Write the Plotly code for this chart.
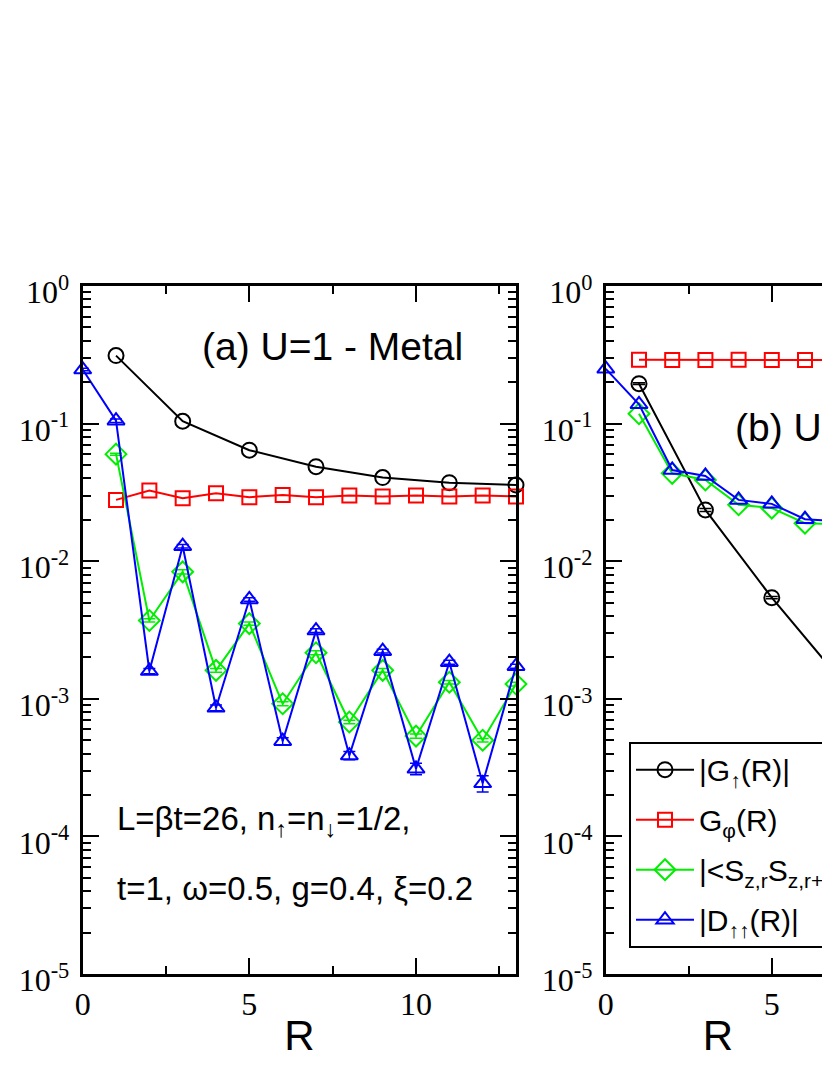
import plotly.graph_objects as go

# ---------------- data: panel (a) U=1 - Metal ----------------
R_a_odd = [1, 3, 5, 7, 9, 11, 13]
G_up_a = [0.312, 0.104, 0.0641, 0.0486, 0.0405, 0.0372, 0.0358]

R_a = [1, 2, 3, 4, 5, 6, 7, 8, 9, 10, 11, 12, 13]
G_phi_a = [0.0279, 0.0326, 0.0287, 0.0312, 0.0292, 0.0303, 0.0292,
           0.0300, 0.0295, 0.0300, 0.0295, 0.0300, 0.0295]
Sz_a = [0.060, 0.00371, 0.00837, 0.00161, 0.00352, 0.00092, 0.00216,
        0.000678, 0.00161, 0.000536, 0.00132, 0.000500, 0.00128]
Sz_a_err = [0.001, 0.0001, 0.0003, 0.00005, 0.0001, 0.00003, 0.00007,
            0.00002, 0.00005, 0.00002, 0.00004, 0.000015, 0.00004]

R_a_D = [0, 1, 2, 3, 4, 5, 6, 7, 8, 9, 10, 11, 12, 13]
D_a = [0.247, 0.105, 0.00159, 0.01285, 0.00086, 0.00527, 0.000492,
       0.00313, 0.000387, 0.00222, 0.00031, 0.001845, 0.000243, 0.001726]
D_a_err = [0.005, 0.003, 0.00007, 0.0004, 0.00004, 0.00015, 0.00003,
           0.0001, 0.000027, 0.00007, 0.00003, 0.00006, 0.000033, 0.00006]

# ---------------- data: panel (b) ----------------
R_b_odd = [1, 3, 5, 7]
G_up_b = [0.195, 0.0236, 0.00543, 0.00144]
G_up_b_err = [0.003, 0.0006, 0.0001, 0.00004]

R_b = [1, 2, 3, 4, 5, 6, 7]
G_phi_b = [0.291, 0.290, 0.290, 0.291, 0.290, 0.290, 0.290]
Sz_b = [0.118, 0.0435, 0.0389, 0.0257, 0.0243, 0.0189, 0.0185]

R_b_D = [0, 1, 2, 3, 4, 5, 6, 7]
D_b = [0.250, 0.138, 0.0460, 0.0416, 0.0279, 0.0261, 0.0202, 0.0195]

legend_names = ["|G<sub>↑</sub>(R)|", "G<sub>φ</sub>(R)",
                "|&lt;S<sub>z,r</sub>S<sub>z,r+1</sub>&gt;|", "|D<sub>↑↑</sub>(R)|"]

y_major = [1e-5, 1e-4, 1e-3, 1e-2, 1e-1, 1]
y_major_text = ["10<sup>-5</sup>", "10<sup>-4</sup>", "10<sup>-3</sup>",
                "10<sup>-2</sup>", "10<sup>-1</sup>", "10<sup>0</sup>"]
y_minor = [m * 10.0 ** e for e in range(-5, 0) for m in range(2, 10)]
x_major = [0, 5, 10]
x_minor = [2.5, 7.5, 12.5]

BLACK, RED, GREEN, BLUE = "#000000", "#ff0000", "#00ee00", "#0000ff"

fig = go.Figure()


def add(x, y, color, symbol, name, group, xa, ya, show, err=None, size=13):
    fig.add_trace(go.Scatter(
        x=x, y=y, mode="lines+markers", name=name, xaxis=xa, yaxis=ya,
        legendgroup=group, showlegend=show, cliponaxis=False,
        line=dict(color=color, width=2),
        marker=dict(symbol=symbol, size=size, color=color,
                    line=dict(color=color, width=2)),
        error_y=(dict(type="data", array=err, visible=True, color=color,
                      thickness=1.5, width=6) if err is not None else None),
    ))


# panel (a)
add(R_a_odd, G_up_a, BLACK, "circle-open", legend_names[0], "g1", "x", "y", False, size=15)
add(R_a, G_phi_a, RED, "square-open", legend_names[1], "g2", "x", "y", False, size=14)
add(R_a, Sz_a, GREEN, "diamond-open", legend_names[2], "g3", "x", "y", False, err=Sz_a_err, size=16)
add(R_a_D, D_a, BLUE, "triangle-up-open", legend_names[3], "g4", "x", "y", False, err=D_a_err, size=15)

# panel (b)
add(R_b_odd, G_up_b, BLACK, "circle-open", legend_names[0], "g1", "x2", "y2", True, err=G_up_b_err, size=15)
add(R_b, G_phi_b, RED, "square-open", legend_names[1], "g2", "x2", "y2", True, size=14)
add(R_b, Sz_b, GREEN, "diamond-open", legend_names[2], "g3", "x2", "y2", True, size=16)
add(R_b_D, D_b, BLUE, "triangle-up-open", legend_names[3], "g4", "x2", "y2", True, size=15)

OFF = 8                      # page offset of the figure inside the browser
W, H = 830 - OFF, 1075 - OFF
TOP, BOT = 286 - OFF, 974.5 - OFF


def px_x(p):
    return (p - OFF) / W


def px_y(p):
    return (BOT - (p - OFF)) / (BOT - TOP)


tickfont = dict(family="Liberation Serif", size=32, color="black")
common_x = dict(
    tickmode="array", tickvals=x_major, ticktext=[str(v) for v in x_major],
    ticks="inside", ticklen=16, tickwidth=2, tickcolor="black",
    minor=dict(tickmode="array", tickvals=x_minor, ticks="inside",
               ticklen=8, tickwidth=2, tickcolor="black"),
    showline=True, linewidth=3, linecolor="black", mirror="allticks",
    showgrid=False, zeroline=False, tickfont=tickfont,
    title=dict(text="R", font=dict(family="Liberation Sans", size=42, color="black"),
               standoff=0),
)
common_y = dict(
    type="log", range=[-5, 0],
    tickmode="array", tickvals=y_major, ticktext=y_major_text,
    ticks="inside", ticklen=16, tickwidth=2, tickcolor="black",
    minor=dict(tickmode="array", tickvals=y_minor, ticks="inside",
               ticklen=8, tickwidth=2, tickcolor="black"),
    showline=True, linewidth=3, linecolor="black",
    showgrid=False, zeroline=False, tickfont=tickfont,
    ticklabelstandoff=4, ticklabelshift=6,
)

fig.update_layout(
    template="none",
    width=W, height=H,
    margin=dict(l=0, r=0, t=TOP, b=H - BOT, autoexpand=False),
    paper_bgcolor="white", plot_bgcolor="white",
    font=dict(family="Liberation Sans", color="black"),
    xaxis=dict(domain=[px_x(82.7), px_x(516)], range=[0, 13], anchor="y", **common_x),
    yaxis=dict(domain=[0, 1], anchor="x", mirror="allticks", **common_y),
    xaxis2=dict(domain=[px_x(605.8), 1.0], range=[0, (830 - 605.8) / 33.2], anchor="y2", **common_x),
    yaxis2=dict(domain=[0, 1], anchor="x2", mirror=False, **common_y),
    showlegend=True,
    legend=dict(
        x=px_x(629), y=px_y(742), xanchor="left", yanchor="top",
        bgcolor="white", bordercolor="black", borderwidth=2,
        font=dict(family="Liberation Sans", size=30, color="black"),
        itemwidth=58, tracegroupgap=8, traceorder="grouped",
    ),
    annotations=[
        dict(text="(a) U=1 - Metal", xref="paper", yref="paper",
             x=px_x(200), y=px_y(347), xanchor="left", yanchor="middle",
             showarrow=False, font=dict(family="Liberation Sans", size=39)),
        dict(text="(b) U=0 - CDW", xref="paper", yref="paper",
             x=px_x(733), y=px_y(428), xanchor="left", yanchor="middle",
             showarrow=False, font=dict(family="Liberation Sans", size=39)),
        dict(text="L=βt=26, n<sub>↑</sub>=n<sub>↓</sub>=1/2,", xref="paper", yref="paper",
             x=px_x(115), y=px_y(821), xanchor="left", yanchor="middle",
             showarrow=False, font=dict(family="Liberation Sans", size=33)),
        dict(text="t=1, ω=0.5, g=0.4, ξ=0.2", xref="paper", yref="paper",
             x=px_x(115), y=px_y(889), xanchor="left", yanchor="middle",
             showarrow=False, font=dict(family="Liberation Sans", size=33)),
    ],
)

fig.write_html("out.html")
